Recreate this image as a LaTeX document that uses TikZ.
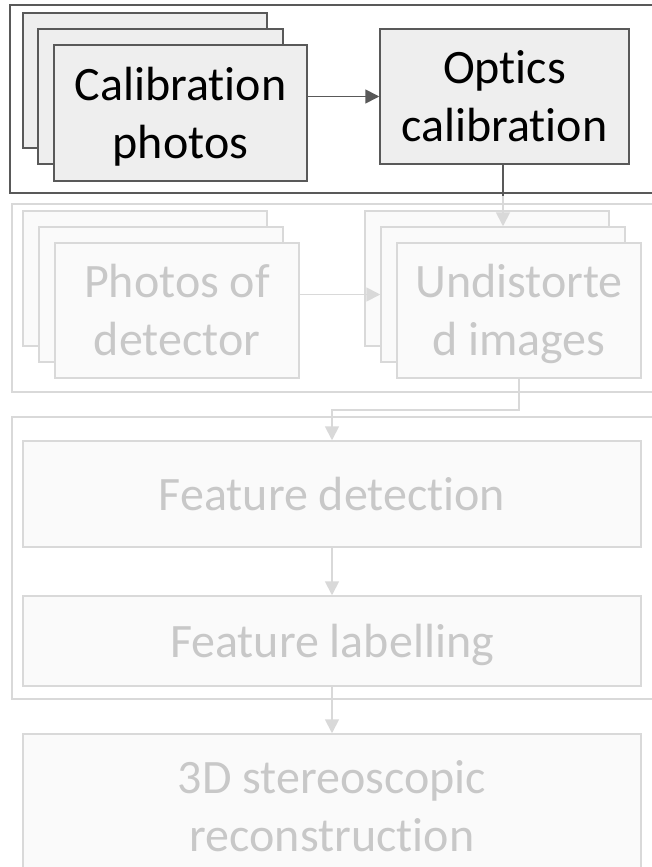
\documentclass[tikz,border=0pt]{standalone}
\usepackage{fontspec}
\setmainfont{Carlito}[Ligatures=NoCommon]
\usetikzlibrary{arrows.meta}
\definecolor{dk}{HTML}{595959}
\definecolor{afill}{HTML}{EEEEEE}
\definecolor{ifill}{HTML}{FAFAFA}
\definecolor{iline}{HTML}{D9D9D9}
\definecolor{itext}{HTML}{C8C8C8}
\newcommand\topstrut{\rule{0pt}{46pt}}
\newcommand\botstrut{\rule[-14pt]{0pt}{14pt}}
\begin{document}
\begin{tikzpicture}[x=1pt,y=-1pt,
  base/.style={line width=1.5pt, inner sep=0pt, align=center, font=\fontsize{48}{58}\selectfont},
  abox/.style={base, draw=dk, fill=afill, text=black},
  ibox/.style={base, draw=iline, fill=ifill, text=itext},
  aframe/.style={draw=dk, line width=1.8pt},
  iframe/.style={draw=iline, line width=1.5pt},
  tip/.style={-{Triangle[length=14pt,width=14pt]}},
  aconn/.style={draw=dk, line width=1.8pt},
  iconn/.style={draw=iline, line width=1.8pt}]
\useasboundingbox (0,0) rectangle (652,867);
\clip (0,0) rectangle (652,867);
\fill[white] (0,0) rectangle (652,867);

% group frames
\draw[aframe] (10,5) rectangle (660,193);
\draw[iframe] (12,204) rectangle (660,392);
\draw[iframe] (12,417) rectangle (660,699);

% calibration stack
\node[abox, minimum width=244pt, minimum height=135pt] (calB) at (145,80.5) {};
\node[abox, minimum width=245pt, minimum height=135pt] (calM) at (160.5,96.5) {};
\node[abox, minimum width=253pt, minimum height=136pt] (calF) at (180.5,113) {\topstrut Calibration\\photos\botstrut};
\node[abox, minimum width=249pt, minimum height=135pt] (opt) at (504.5,96.5) {\topstrut Optics\\calibration\botstrut};

% photos of detector stack
\node[ibox, minimum width=244pt, minimum height=135pt] (phB) at (145,278.5) {};
\node[ibox, minimum width=244pt, minimum height=135pt] (phM) at (161,294.5) {};
\node[ibox, minimum width=244pt, minimum height=135pt] (phF) at (177,310.5) {\topstrut Photos of\\detector\botstrut};

% undistorted stack
\node[ibox, minimum width=244pt, minimum height=135pt] (unB) at (487,278.5) {};
\node[ibox, minimum width=244pt, minimum height=135pt] (unM) at (503,294.5) {};
\node[ibox, minimum width=244pt, minimum height=135pt] (unF) at (519,310.5) {\topstrut Undistorte\\d images\botstrut};

% lower steps
\node[ibox, minimum width=618pt, minimum height=106pt] (fd) at (332,494) {\topstrut Feature detection\botstrut};
\node[ibox, minimum width=618pt, minimum height=90pt] (fl) at (332,641) {\topstrut Feature labelling\botstrut};
\node[ibox, minimum width=618pt, minimum height=144pt] (rec) at (332,806) {\topstrut 3D stereoscopic\\reconstruction\botstrut};

% connectors
\draw[aconn, tip] (calF.east |- opt.west) -- (opt.west);
\coordinate (optout) at (503,196);
\draw[aconn] (optout |- opt.south) -- (optout);
\draw[iconn, tip] (optout) -- (optout |- unM.north);
\draw[iconn, tip] (phF.east |- unM.west) -- (unM.west);
\draw[iconn, tip] (unF.south) -- ++(0,31) -| (fd.north);
\draw[iconn, tip] (fd.south) -- (fl.north);
\draw[iconn, tip] (fl.south) -- (rec.north);
\end{tikzpicture}
\end{document}
